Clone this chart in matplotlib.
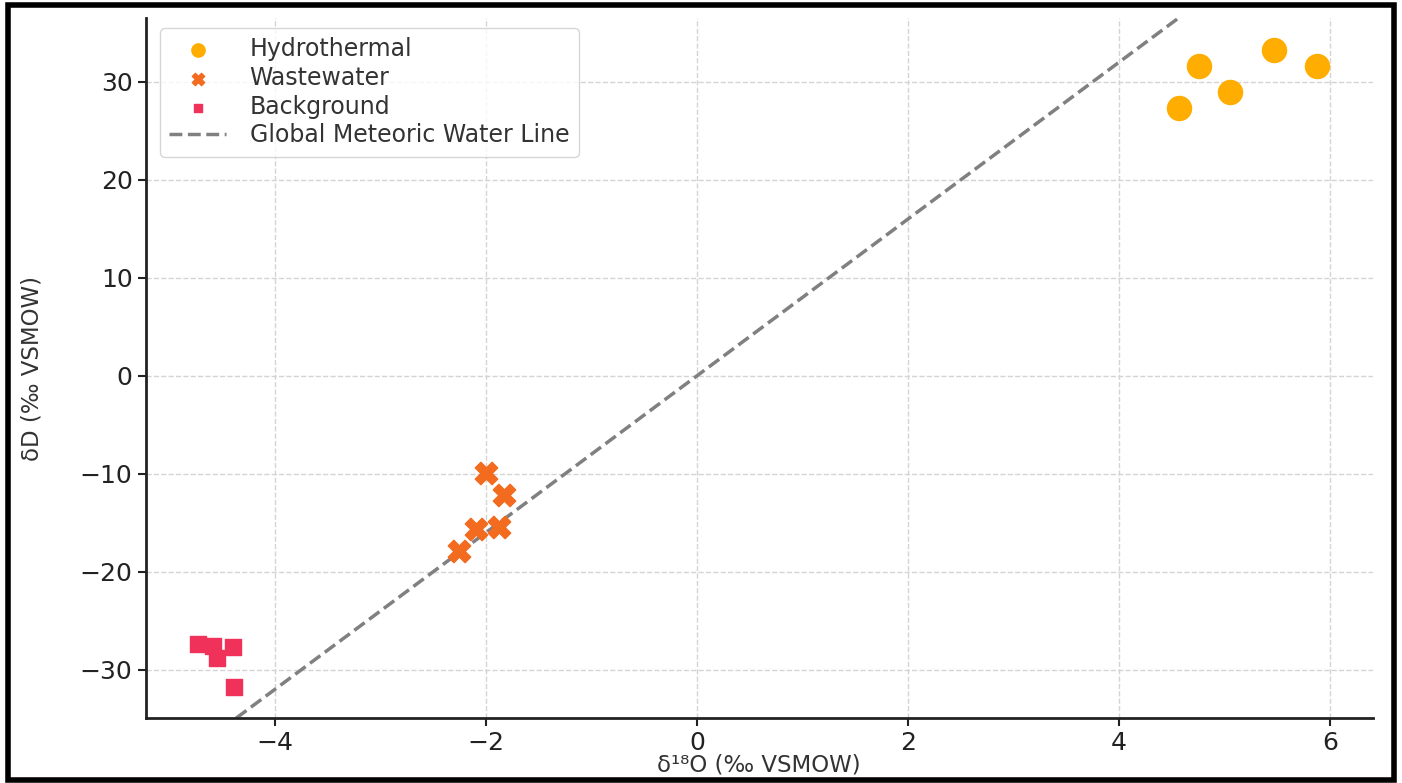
import numpy as np
import matplotlib.pyplot as plt
from matplotlib.patches import Rectangle

# isotope data (delta 18O, delta D, per mil VSMOW)
hydro_o18 = [4.57, 4.76, 5.05, 5.47, 5.87]
hydro_d = [27.3, 31.6, 29.0, 33.2, 31.6]

waste_o18 = [-2.00, -1.83, -2.09, -1.87, -2.25]
waste_d = [-9.9, -12.2, -15.6, -15.4, -17.9]

back_o18 = [-4.73, -4.58, -4.55, -4.39, -4.38]
back_d = [-27.4, -27.6, -28.8, -27.7, -31.7]

gmwl_slope = 8.0
gmwl_intercept = 0.0

fig = plt.figure(figsize=(14.02, 7.83), dpi=100)
ax = fig.add_axes([0.104, 0.083, 0.875, 0.894])

ax.scatter(hydro_o18, hydro_d, marker="o", s=300, color="#FFAD00", label="Hydrothermal", zorder=3)
ax.scatter(waste_o18, waste_d, marker="X", s=260, color="#F26B1F", label="Wastewater", zorder=3)
ax.scatter(back_o18, back_d, marker="s", s=120, color="#F0325A", label="Background", zorder=3)

xlim = (-5.22, 6.40)
xs = np.linspace(xlim[0], xlim[1], 100)
ax.plot(xs, gmwl_slope * xs + gmwl_intercept, linestyle="--", color="gray", linewidth=2.5,
        label="Global Meteoric Water Line", zorder=2)

ax.set_xlim(*xlim)
ax.set_ylim(-34.9, 36.5)
ax.set_xticks([-4, -2, 0, 2, 4, 6])
ax.set_yticks([-30, -20, -10, 0, 10, 20, 30])

ax.set_xlabel("δ¹⁸O (‰ VSMOW)", fontsize=16.5, color="#333333")
ax.set_ylabel("δD (‰ VSMOW)", fontsize=16.5, color="#333333")
ax.xaxis.set_label_coords(0.5, -0.051)
ax.yaxis.set_label_coords(-0.083, 0.5)
ax.tick_params(labelsize=18, length=6, width=1.5, colors="#222222")
ax.grid(True, linestyle="--", color="#d4d4d4", linewidth=1)

for side in ["top", "right"]:
    ax.spines[side].set_visible(False)
for side in ["left", "bottom"]:
    ax.spines[side].set_linewidth(2)
    ax.spines[side].set_color("#222222")

leg = ax.legend(loc="upper left", fontsize=17, frameon=True, borderpad=0.4,
                handlelength=2.4, handletextpad=1.0, labelspacing=0.2, markerscale=0.55,
                borderaxespad=0, bbox_to_anchor=(0.0114, 0.986))
leg.get_frame().set_edgecolor("#cccccc")
for t in leg.get_texts():
    t.set_color("#333333")

# black frame around the whole picture
fig.patches.append(Rectangle((0.006, 0.004), 0.988, 0.989, transform=fig.transFigure,
                             fill=False, edgecolor="black", linewidth=4))

fig.savefig("out.png", dpi=100)
